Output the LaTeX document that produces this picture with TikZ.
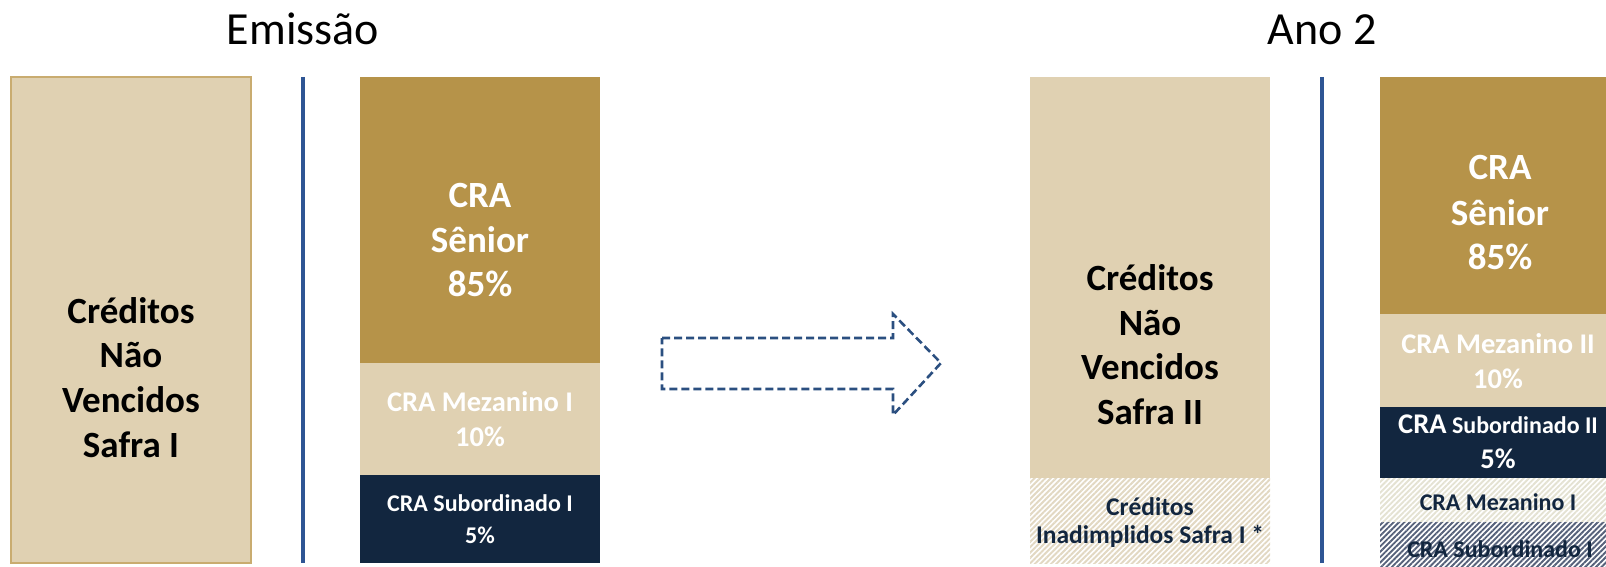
\documentclass[tikz,border=0pt]{standalone}
\usepackage{fontspec}
\setmainfont{Carlito}
\usetikzlibrary{patterns.meta}
\definecolor{tanL}{HTML}{E0D1B2}
\definecolor{tanD}{HTML}{C9AC70}
\definecolor{gold}{HTML}{B69349}
\definecolor{navy}{HTML}{12263F}
\definecolor{lineblue}{HTML}{2E5594}
\definecolor{arrowblue}{HTML}{2B4F80}
\definecolor{hatchtan}{HTML}{E2D8C2}
\definecolor{hatchgray}{HTML}{E4E2D2}
\definecolor{hatchnavy}{HTML}{56617A}
\begin{document}
\begin{tikzpicture}[x=1pt,y=-1pt,
  box/.style={inner sep=0, outer sep=0, anchor=north west, draw=none},
  ttl/.style={font=\fontsize{46}{55}\selectfont, inner sep=0, anchor=base},
  big/.style={font=\fontsize{37}{45}\selectfont\bfseries, inner sep=0, anchor=base},
  mid/.style={font=\fontsize{28.5}{35}\selectfont\bfseries, inner sep=0, anchor=base},
  sml/.style={font=\fontsize{24}{29}\selectfont\bfseries, inner sep=0, anchor=base},
  hsml/.style={font=\fontsize{25.5}{30}\selectfont\bfseries, inner sep=0, anchor=base, text=navy},
  sep/.style={draw=lineblue, line width=3.5pt},
  hatchlight/.style={fill=white, postaction={pattern={Lines[angle=45,distance=3.8pt,line width=1.9pt]}, pattern color=hatchtan}},
  hatchpale/.style={fill=white, postaction={pattern={Lines[angle=45,distance=3.8pt,line width=1.9pt]}, pattern color=hatchgray}},
  hatchdark/.style={fill=white, postaction={pattern={Lines[angle=45,distance=3.8pt,line width=1.9pt]}, pattern color=hatchnavy}}
]
\useasboundingbox (0,0) rectangle (1606,567);

% ---------- Emissão ----------
\node[ttl] (t1) at (303,45) {Emissão};

\node[box, fill=tanL, draw=tanD, line width=1.5pt, minimum width=240, minimum height=486] (L1) at (11,77) {};
\node[big] (l1a) at (131,323) {Créditos};
\node[big] (l1b) at (131,367) {Não};
\node[big] (l1c) at (131,412) {Vencidos};
\node[big] (l1d) at (131,457) {Safra I};

\coordinate (v1t) at (303,77);
\coordinate (v1b) at (303,563);
\draw[sep] (v1t) -- (v1b);

\node[box, fill=gold, minimum width=240, minimum height=286] (S1) at (360,77) {};
\node[box, fill=tanL, minimum width=240, minimum height=112] (M1) at (360,363) {};
\node[box, fill=navy, minimum width=240, minimum height=88] (B1) at (360,475) {};
\node[big, text=white] (s1a) at (480,207) {CRA};
\node[big, text=white] (s1b) at (480,252) {Sênior};
\node[big, text=white] (s1c) at (480,296) {85\%};
\node[mid, text=white] (m1a) at (480,411) {CRA Mezanino I};
\node[mid, text=white] (m1b) at (480,446) {10\%};
\node[sml, text=white] (b1a) at (480,511) {CRA Subordinado I};
\node[sml, text=white] (b1b) at (480,543) {5\%};

% ---------- arrow ----------
\draw[arrowblue, line width=2.6pt, dash pattern=on 8pt off 4pt, line join=miter]
  (662,338) -- (893,338) -- (893,314) -- (941,363) -- (893,415) -- (893,389) -- (662,389) -- cycle;

% ---------- Ano 2 ----------
\node[ttl] (t2) at (1322,45) {Ano 2};

\node[box, fill=tanL, minimum width=240, minimum height=401] (L2) at (1030,77) {};
\node[box, hatchlight, minimum width=240, minimum height=85] (H1) at (1030,478) {};
\node[big] (l2a) at (1150,290) {Créditos};
\node[big] (l2b) at (1150,335) {Não};
\node[big] (l2c) at (1150,379) {Vencidos};
\node[big] (l2d) at (1150,424) {Safra II};
\node[hsml] (h1a) at (1150,515) {Créditos};
\node[hsml] (h1b) at (1150,543) {Inadimplidos Safra I *};

\coordinate (v2t) at (1322,77);
\coordinate (v2b) at (1322,563);
\draw[sep] (v2t) -- (v2b);

\node[box, fill=gold, minimum width=242, minimum height=237] (S2) at (1380,77) {};
\node[box, fill=tanL, minimum width=242, minimum height=93] (M2) at (1380,314) {};
\node[box, fill=navy, minimum width=242, minimum height=71] (B2) at (1380,407) {};
\node[box, hatchpale, minimum width=242, minimum height=44] (H2) at (1380,478) {};
\node[box, hatchdark, minimum width=242, minimum height=50] (H3) at (1380,522) {};
\node[big, text=white] (s2a) at (1500,179) {CRA};
\node[big, text=white] (s2b) at (1500,225) {Sênior};
\node[big, text=white] (s2c) at (1500,269) {85\%};
\node[mid, text=white] (m2a) at (1498,353) {CRA Mezanino II};
\node[mid, text=white] (m2b) at (1498,388) {10\%};
\node[sml, text=white] (b2a) at (1498,433) {{\fontsize{28.5}{34}\selectfont CRA} Subordinado II};
\node[mid, text=white] (b2b) at (1498,468) {5\%};
\node[sml, text=navy] (h2a) at (1498,510) {CRA Mezanino I};
\node[sml, text=navy] (h3a) at (1500,557) {CRA Subordinado I};
\end{tikzpicture}
\end{document}
